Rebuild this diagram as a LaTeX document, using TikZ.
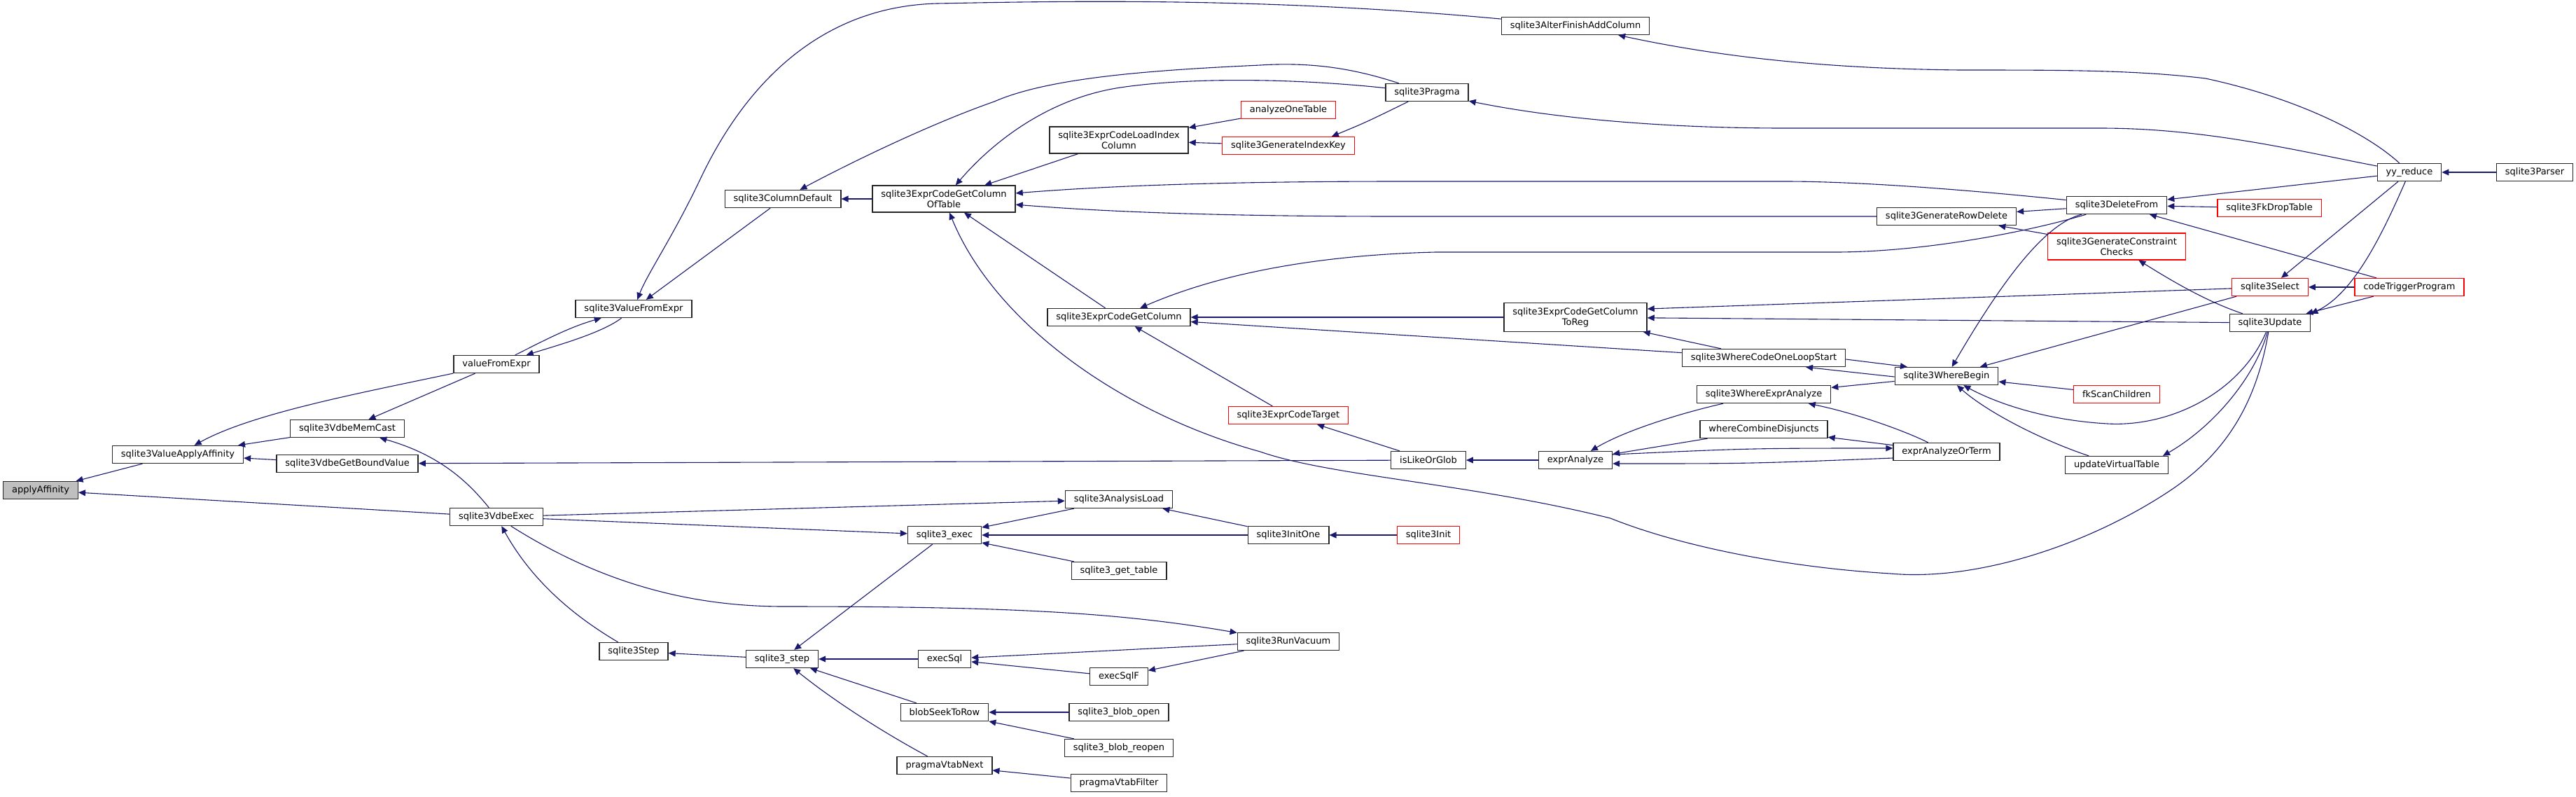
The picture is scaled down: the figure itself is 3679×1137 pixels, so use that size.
\documentclass[tikz,border=0pt]{standalone}
\usepackage{fontspec}
\setmainfont{DejaVu Sans}
\usetikzlibrary{arrows.meta}
\definecolor{edgeblue}{HTML}{191970}
\definecolor{focusgray}{HTML}{BFBFBF}
\tikzset{
  fn/.style={draw=black!85, line width=0.65pt, fill=white, rectangle,
    minimum height=12.5pt, inner xsep=6.2pt, inner ysep=2pt, align=center,
    font=\fontsize{6.5}{7.5}\selectfont},
  trunc/.style={fn, draw=red},
  focus/.style={fn, fill=focusgray},
  twoline/.style={inner ysep=3.2pt},
  call/.style={draw=edgeblue, line width=0.55pt, -{Triangle[length=5pt,width=4.4pt]}},
}
\begin{document}
\begin{tikzpicture}[x=0.5pt,y=-0.5pt]
  \useasboundingbox (0,0) rectangle (3679,1137);
    % functions, column by column
    \node[focus] (n_aA) at (58,700) {applyAffinity};
    \node[fn] (n_vaa) at (254,649) {sqlite3ValueApplyAffinity};
    \node[fn] (n_memcast) at (496,612) {sqlite3VdbeMemCast};
    \node[fn] (n_getbound) at (496,662) {sqlite3VdbeGetBoundValue};
    \node[fn] (n_valuefromexpr) at (709,520) {valueFromExpr};
    \node[fn] (n_vdbeexec) at (709,738) {sqlite3VdbeExec};
    \node[fn] (n_vfe) at (905,441) {sqlite3ValueFromExpr};
    \node[fn] (n_vdbestep) at (905,930) {sqlite3Step};
    \node[fn] (n_coldefault) at (1118,284) {sqlite3ColumnDefault};
    \node[fn] (n_step) at (1117,941) {sqlite3\_step};
    \node[fn,twoline] (n_gcot) at (1348,284) {sqlite3ExprCodeGetColumn\\OfTable};
    \node[fn] (n_exec) at (1349,764) {sqlite3\_exec};
    \node[fn] (n_execsql) at (1349,941) {execSql};
    \node[fn] (n_blobseek) at (1349,1017) {blobSeekToRow};
    \node[fn] (n_vtabnext) at (1349,1093) {pragmaVtabNext};
    \node[fn,twoline] (n_lic) at (1598,200) {sqlite3ExprCodeLoadIndex\\Column};
    \node[fn] (n_getcolumn) at (1598,453) {sqlite3ExprCodeGetColumn};
    \node[fn] (n_analysisload) at (1598,713) {sqlite3AnalysisLoad};
    \node[fn] (n_gettable) at (1598,815) {sqlite3\_get\_table};
    \node[fn] (n_execsqlf) at (1598,966) {execSqlF};
    \node[fn] (n_blobopen) at (1598,1017) {sqlite3\_blob\_open};
    \node[fn] (n_blobreopen) at (1598,1068) {sqlite3\_blob\_reopen};
    \node[fn] (n_vtabfilter) at (1598,1118) {pragmaVtabFilter};
    \node[trunc] (n_analyzeone) at (1840,157) {analyzeOneTable};
    \node[trunc] (n_genidxkey) at (1840,208) {sqlite3GenerateIndexKey};
    \node[trunc] (n_codetarget) at (1840,593) {sqlite3ExprCodeTarget};
    \node[fn] (n_initone) at (1840,764) {sqlite3InitOne};
    \node[fn] (n_runvacuum) at (1840,916) {sqlite3RunVacuum};
    \node[fn] (n_pragma) at (2038,132) {sqlite3Pragma};
    \node[fn] (n_islike) at (2040,657) {isLikeOrGlob};
    \node[trunc] (n_init) at (2040,764) {sqlite3Init};
    \node[fn] (n_alteradd) at (2250,37) {sqlite3AlterFinishAddColumn};
    \node[fn,twoline] (n_gctr) at (2250,453) {sqlite3ExprCodeGetColumn\\ToReg};
    \node[fn] (n_expranalyze) at (2250,657) {exprAnalyze};
    \node[fn] (n_wcols) at (2519,511) {sqlite3WhereCodeOneLoopStart};
    \node[fn] (n_wea) at (2519,563) {sqlite3WhereExprAnalyze};
    \node[fn] (n_wcd) at (2519,613) {whereCombineDisjuncts};
    \node[fn] (n_rowdelete) at (2780,309) {sqlite3GenerateRowDelete};
    \node[fn] (n_wherebegin) at (2780,537) {sqlite3WhereBegin};
    \node[fn] (n_eaot) at (2780,645) {exprAnalyzeOrTerm};
    \node[fn] (n_deletefrom) at (3023,293) {sqlite3DeleteFrom};
    \node[trunc,twoline] (n_gcc) at (3023,352) {sqlite3GenerateConstraint\\Checks};
    \node[trunc] (n_fkscan) at (3023,563) {fkScanChildren};
    \node[fn] (n_updatevt) at (3023,664) {updateVirtualTable};
    \node[trunc] (n_fkdrop) at (3241,297) {sqlite3FkDropTable};
    \node[trunc] (n_select) at (3242,410) {sqlite3Select};
    \node[fn] (n_update) at (3242,461) {sqlite3Update};
    \node[fn] (n_yyreduce) at (3441,246) {yy\_reduce};
    \node[trunc] (n_trigger) at (3441,410) {codeTriggerProgram};
    \node[fn] (n_parser) at (3620,246) {sqlite3Parser};
    % calls into the left part
    \draw[call] (n_vaa) -- (n_aA);
    \draw[call] (n_vdbeexec) -- (n_aA);
    \draw[call] (n_valuefromexpr) .. controls (520,560) and (360,590) .. (n_vaa);
    \draw[call] (n_memcast) -- (n_vaa);
    \draw[call] (n_getbound) -- (n_vaa);
    \draw[call] (n_vdbeexec) .. controls (670,690) and (630,650) .. (n_memcast);
    \draw[call] (n_valuefromexpr) -- (n_memcast);
    \draw[call] (n_islike) -- (n_getbound);
    \draw[call] (n_vdbestep) .. controls (820,880) and (760,830) .. (n_vdbeexec);
    \draw[call] (n_vdbeexec) -- (n_analysisload);
    \draw[call] (n_vdbeexec) -- (n_exec);
    \draw[call] (n_vdbeexec) .. controls (870,840) and (1000,866) .. (1120,866)
      .. controls (1450,866) and (1600,875) .. (n_runvacuum);
    \draw[call] (n_valuefromexpr) .. controls (770,490) and (810,468) .. (n_vfe);
    \draw[call] (n_vfe) .. controls (860,475) and (800,492) .. (n_valuefromexpr);
    \draw[call] (n_alteradd) .. controls (1800,-5) and (1500,2) .. (1338,5)
      .. controls (1150,10) and (1050,150) .. (1000,256)
      .. controls (960,340) and (925,390) .. (n_vfe);
    \draw[call] (n_coldefault) -- (n_vfe);
    % column access
    \draw[call] (n_gcot) -- (n_coldefault);
    \draw[call] (n_pragma) .. controls (1940,100) and (1880,88) .. (1800,93)
      .. controls (1650,100) and (1500,110) .. (1420,145)
      .. controls (1320,180) and (1200,240) .. (n_coldefault);
    \draw[call] (n_pragma) .. controls (1850,112) and (1700,110) .. (1600,125)
      .. controls (1500,140) and (1420,200) .. (n_gcot);
    \draw[call] (n_lic) -- (n_gcot);
    \draw[call] (n_analyzeone) -- (n_lic);
    \draw[call] (n_genidxkey) -- (n_lic);
    \draw[call] (n_pragma) .. controls (1950,175) .. (n_genidxkey.12);
    \draw[call] (n_yyreduce) .. controls (3280,215) and (3150,183) .. (3000,183)
      -- (2550,183) .. controls (2350,183) and (2200,165) .. (n_pragma);
    \draw[call] (n_yyreduce) .. controls (3380,190) and (3280,140) .. (3150,112)
      .. controls (3050,100) and (2950,100) .. (2800,100)
      .. controls (2600,98) and (2450,80) .. (n_alteradd);
    \draw[call] (n_deletefrom) .. controls (2800,270) and (2650,259) .. (2550,259)
      -- (2000,259) .. controls (1700,259) and (1550,268) .. (n_gcot);
    \draw[call] (n_rowdelete) -- (2000,309) .. controls (1700,309) and (1550,300) .. (n_gcot);
    \draw[call] (n_getcolumn) -- (n_gcot);
    \draw[call] (n_update) .. controls (3225,560) and (3190,640) .. (3100,700)
      .. controls (2980,780) and (2820,830) .. (2700,819)
      .. controls (2550,810) and (2400,780) .. (2300,740)
      .. controls (2100,690) and (1900,680) .. (1800,645)
      .. controls (1600,590) and (1420,460) .. (n_gcot);
    \draw[call] (n_deletefrom) .. controls (2900,330) and (2750,360) .. (2620,360)
      -- (2050,360) .. controls (1850,365) and (1720,400) .. (n_getcolumn);
    \draw[call] (n_gctr) -- (n_getcolumn);
    \draw[call] (n_wcols) -- (n_getcolumn);
    \draw[call] (n_codetarget) -- (n_getcolumn);
    \draw[call] (n_islike) -- (n_codetarget);
    % exec and step
    \draw[call] (n_analysisload) -- (n_exec);
    \draw[call] (n_initone) -- (n_exec);
    \draw[call] (n_gettable) -- (n_exec);
    \draw[call] (n_initone) -- (n_analysisload);
    \draw[call] (n_init) -- (n_initone);
    \draw[call] (n_exec) -- (n_step);
    \draw[call] (n_step) -- (n_vdbestep);
    \draw[call] (n_execsql) -- (n_step);
    \draw[call] (n_blobseek) -- (n_step);
    \draw[call] (n_vtabnext) .. controls (1260,1045) and (1190,1000) .. (n_step);
    \draw[call] (n_runvacuum) -- (n_execsql);
    \draw[call] (n_execsqlf) -- (n_execsql);
    \draw[call] (n_runvacuum) -- (n_execsqlf);
    \draw[call] (n_blobopen) -- (n_blobseek);
    \draw[call] (n_blobreopen) -- (n_blobseek);
    \draw[call] (n_vtabfilter) -- (n_vtabnext);
    % where clause
    \draw[call] (n_expranalyze) -- (n_islike);
    \draw[call] (n_wea) .. controls (2400,590) and (2320,615) .. (n_expranalyze);
    \draw[call] (n_wcd) -- (n_expranalyze);
    \draw[call] ([yshift=4pt]n_expranalyze.east) .. controls (2500,640) .. ([yshift=2.5pt]n_eaot.west);
    \draw[call] ([yshift=-4.5pt]n_eaot.west) .. controls (2500,662) .. ([yshift=-2.5pt]n_expranalyze.east);
    \draw[call] (n_eaot) -- (n_wcd);
    \draw[call] (n_eaot) .. controls (2720,615) and (2650,590) .. (n_wea);
    \draw[call] (n_wherebegin) -- (n_wea);
    \draw[call] ([yshift=-1pt]n_wcols.east) -- ([xshift=-28pt]n_wherebegin.north);
    \draw[call] ([yshift=-0.5pt]n_wherebegin.west) .. controls (2650,532) .. ([xshift=30pt]n_wcols.south);
    \draw[call] (n_wcols) -- (n_gctr);
    \draw[call] (n_select) -- ([yshift=6pt]n_gctr.east);
    \draw[call] (n_update) -- (n_gctr);
    % delete, select, update
    \draw[call] (n_deletefrom) -- (n_rowdelete);
    \draw[call] (n_gcc) -- (n_rowdelete);
    \draw[call] (n_deletefrom) .. controls (2920,320) and (2860,400) .. (n_wherebegin);
    \draw[call] (n_select) -- (n_wherebegin);
    \draw[call] (n_fkscan) -- (n_wherebegin);
    \draw[call] (n_update) .. controls (3200,560) and (3100,610) .. (3010,605)
      .. controls (2920,600) and (2850,575) .. (n_wherebegin);
    \draw[call] (n_updatevt) .. controls (2920,630) and (2840,590) .. (n_wherebegin);
    \draw[call] (n_update) .. controls (3220,540) and (3160,610) .. ([xshift=-4pt]n_updatevt.north east);
    \draw[call] (n_parser) -- (n_yyreduce);
    \draw[call] (n_yyreduce) -- (n_deletefrom);
    \draw[call] (n_fkdrop) -- (n_deletefrom);
    \draw[call] (n_trigger) -- (n_deletefrom);
    \draw[call] (n_yyreduce) -- (n_select);
    \draw[call] (n_trigger) -- (n_select);
    \draw[call] (n_yyreduce) .. controls (3400,340) and (3360,420) .. (n_update.north east);
    \draw[call] (n_trigger) -- (n_update);
    \draw[call] (n_update) .. controls (3150,430) and (3100,400) .. (n_gcc);
  \end{tikzpicture}
\end{document}
